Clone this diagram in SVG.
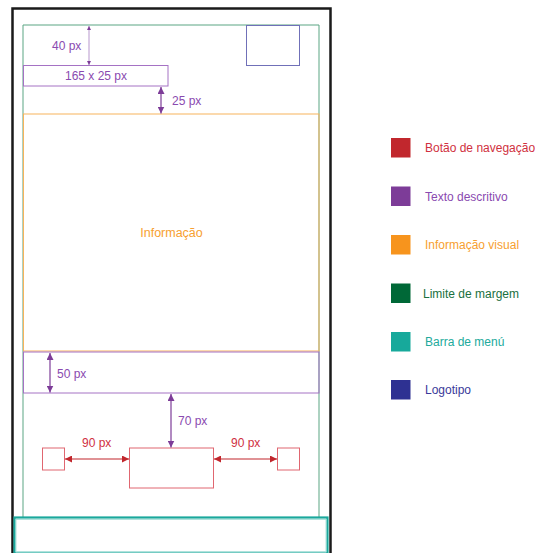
<svg xmlns="http://www.w3.org/2000/svg" width="535" height="553" viewBox="0 0 535 553">
<defs>
<style>
text{font-family:"Liberation Sans",Arial,sans-serif;}
.lbl{font-size:12px;}
.pur{fill:#8a4ab0;}
.red{fill:#d0303f;}
.leg{font-size:12px;}
.dim{fill:none;stroke-width:1.2;}
</style>
<marker id="ap" viewBox="0 0 10 10" refX="10" refY="5" markerWidth="7" markerHeight="7" orient="auto-start-reverse" markerUnits="userSpaceOnUse"><path d="M0,0 L10,5 L0,10 z" fill="#7d3c98"/></marker>
<marker id="apS" viewBox="0 0 10 10" refX="10" refY="5" markerWidth="4" markerHeight="4" orient="auto-start-reverse" markerUnits="userSpaceOnUse"><path d="M0,0 L10,5 L0,10 z" fill="#7d3c98"/></marker>
<marker id="ar" viewBox="0 0 10 10" refX="10" refY="5" markerWidth="7" markerHeight="7" orient="auto-start-reverse" markerUnits="userSpaceOnUse"><path d="M0,0 L10,5 L0,10 z" fill="#c1272d"/></marker>
</defs>
<rect width="535" height="553" fill="#fff"/>
<g id="phone-frame"><path d="M12.5,553 V8.5 H330.5 V553" fill="none" stroke="#1a1a1a" stroke-width="2.5"/></g>
<g id="margin"><path d="M23,517 V25 H319 V517" fill="none" stroke="#5aa583" stroke-width="1"/></g>
<g id="logo"><rect x="246.5" y="25.5" width="53" height="40" fill="none" stroke="#7070b8" stroke-width="1"/></g>
<g id="title-text"><rect x="23.5" y="65.5" width="144.5" height="20.5" fill="none" stroke="#a572c4" stroke-width="1"/><text x="96" y="80" text-anchor="middle" class="lbl pur">165 x 25 px</text></g>
<g id="info"><rect x="23.5" y="114" width="295.5" height="237" fill="none" stroke="#f8b35c" stroke-width="1"/><text x="171.5" y="237" text-anchor="middle" style="font-size:12.5px;fill:#f7a030">Informação</text></g>
<g id="desc"><rect x="23.5" y="352" width="295.5" height="41" fill="none" stroke="#a572c4" stroke-width="1"/></g>
<g id="nav-left"><rect x="42.5" y="448" width="22" height="22" fill="none" stroke="#e06670" stroke-width="1"/></g>
<g id="nav-center"><rect x="129.5" y="448" width="84" height="40" fill="none" stroke="#e06670" stroke-width="1"/></g>
<g id="nav-right"><rect x="277.5" y="448" width="22" height="22" fill="none" stroke="#e06670" stroke-width="1"/></g>
<g id="menu-bar"><rect x="14.5" y="517.5" width="313" height="36" fill="none" stroke="#1aa89c" stroke-width="2.2"/><rect x="16" y="519.5" width="310" height="32" fill="none" stroke="#9fdcd5" stroke-width="0.8"/></g>
<g id="connectors">
<line x1="89" y1="26" x2="89" y2="65" stroke="#9a6ab8" stroke-width="0.7" marker-start="url(#apS)" marker-end="url(#apS)"/>
<line x1="161" y1="87" x2="161" y2="113.5" class="dim" stroke="#7d3c98" marker-start="url(#ap)" marker-end="url(#ap)"/>
<line x1="50" y1="353" x2="50" y2="392.5" class="dim" stroke="#7d3c98" marker-start="url(#ap)" marker-end="url(#ap)"/>
<line x1="171" y1="394" x2="171" y2="447.5" class="dim" stroke="#7d3c98" marker-start="url(#ap)" marker-end="url(#ap)"/>
<line x1="65" y1="459" x2="129" y2="459" class="dim" stroke="#c1272d" marker-start="url(#ar)" marker-end="url(#ar)"/>
<line x1="214" y1="459" x2="277" y2="459" class="dim" stroke="#c1272d" marker-start="url(#ar)" marker-end="url(#ar)"/>
</g>
<g id="labels">
<text x="52" y="50" class="lbl pur">40 px</text>
<text x="172" y="105" class="lbl pur">25 px</text>
<text x="57" y="378" class="lbl pur">50 px</text>
<text x="178" y="425" class="lbl pur">70 px</text>
<text x="82" y="447" class="lbl red">90 px</text>
<text x="231" y="447" class="lbl red">90 px</text>
</g>
<g id="legend">
<g id="leg-nav"><rect x="391" y="138" width="19.5" height="19.5" fill="#c1272d"/><text x="425" y="152" class="leg" fill="#d03040">Botão de navegação</text></g>
<g id="leg-text"><rect x="391" y="186.5" width="19.5" height="19.5" fill="#7d3c98"/><text x="425" y="200.5" class="leg" fill="#8a4ab0">Texto descritivo</text></g>
<g id="leg-info"><rect x="391" y="235" width="19.5" height="19.5" fill="#f7941d"/><text x="425" y="249" class="leg" fill="#f7a030">Informação visual</text></g>
<g id="leg-margin"><rect x="391" y="283.5" width="19.5" height="19.5" fill="#006837"/><text x="423" y="297.5" class="leg" fill="#1a7040">Limite de margem</text></g>
<g id="leg-menu"><rect x="391" y="332" width="19.5" height="19.5" fill="#17a99b"/><text x="425" y="346" class="leg" fill="#22aa9c">Barra de menú</text></g>
<g id="leg-logo"><rect x="391" y="380" width="19.5" height="19.5" fill="#2e3192"/><text x="425" y="394" class="leg" fill="#3a3a9a">Logotipo</text></g>
</g>
</svg>
